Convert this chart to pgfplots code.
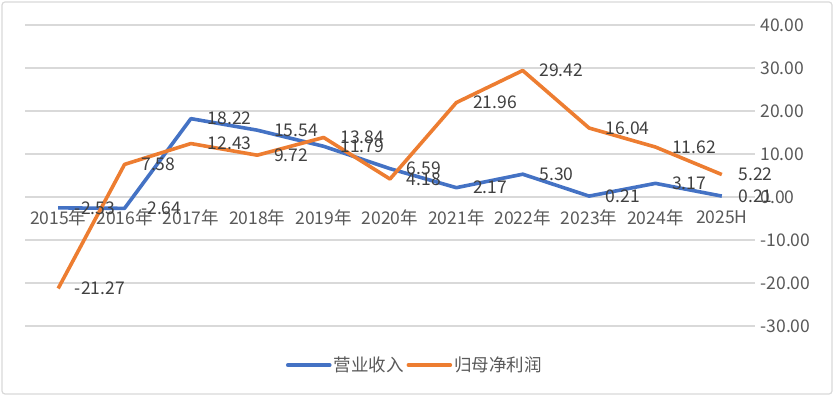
\documentclass[border=0pt]{standalone}
\usepackage{fontspec}
\setmainfont{Noto Sans CJK SC}
\usepackage{pgfplots}
\usepackage{pgfplotstable}
\pgfplotsset{compat=1.18}
\definecolor{cblue}{HTML}{4472C4}
\definecolor{corange}{HTML}{ED7D31}
\definecolor{ctext}{HTML}{595959}
\definecolor{clabel}{HTML}{404040}
\definecolor{cgrid}{HTML}{D9D9D9}

\pgfplotstableread{
x y label
0 -2.53 -2.53
1 -2.64 -2.64
2 18.22 18.22
3 15.54 15.54
4 11.79 11.79
5 6.59 6.59
6 2.17 2.17
7 5.30 5.30
8 0.21 0.21
9 3.17 3.17
10 0.21 0.21
}\revenue

\pgfplotstableread{
x y label
0 -21.27 -21.27
1 7.58 7.58
2 12.43 12.43
3 9.72 9.72
4 13.84 13.84
5 4.18 4.18
6 21.96 21.96
7 29.42 29.42
8 16.04 16.04
9 11.62 11.62
10 5.22 5.22
}\profit

\begin{document}
\begin{tikzpicture}
\begin{axis}[
  at={(0,0)}, anchor=south west,
  scale only axis, width=730bp, height=301bp,
  xmin=-0.5, xmax=10.5, ymin=-30, ymax=40,
  xtick={0,...,10},
  xticklabels={2015年,2016年,2017年,2018年,2019年,2020年,2021年,2022年,2023年,2024年,2025H},
  ytick={-30,-20,-10,0,10,20,30,40},
  yticklabels={-30.00,-20.00,-10.00,0.00,10.00,20.00,30.00,40.00},
  yticklabel pos=right,
  axis line style={draw=none},
  major tick length=0,
  ymajorgrids, grid style={cgrid, line width=1.3bp},
  tick label style={font=\fontsize{17.5bp}{20bp}\selectfont, text=ctext},
  x tick label style={yshift=118bp, inner sep=2bp},
  y tick label style={xshift=2bp},
  clip=false,
  nodes near coords, point meta=explicit symbolic,
  every node near coord/.style={anchor=west, xshift=14bp, inner sep=1bp, font=\fontsize{17.5bp}{20bp}\selectfont, text=clabel},
  legend columns=2,
  legend style={at={(0.534,-0.13)}, anchor=center, draw=none, fill=none,
    font=\fontsize{17.5bp}{20bp}\selectfont, text=ctext,
    /tikz/every even column/.append style={column sep=1bp}},
  legend image code/.code={\draw[#1, line cap=round] (0bp,0bp) -- (42bp,0bp);},
]
\addplot[cblue, line width=3.6bp, line join=round] table[x=x, y=y, meta=label] {\revenue};
\addlegendentry{营业收入}
\addplot[corange, line width=3.6bp, line join=round] table[x=x, y=y, meta=label] {\profit};
\addlegendentry{归母净利润}
\end{axis}
\pgfresetboundingbox
\useasboundingbox (-25bp,-70bp) rectangle (809bp,326bp);
\draw[cgrid, line width=1.2bp, rounded corners=3bp] (-23bp,-68bp) rectangle (807bp,324bp);
\end{tikzpicture}
\end{document}
